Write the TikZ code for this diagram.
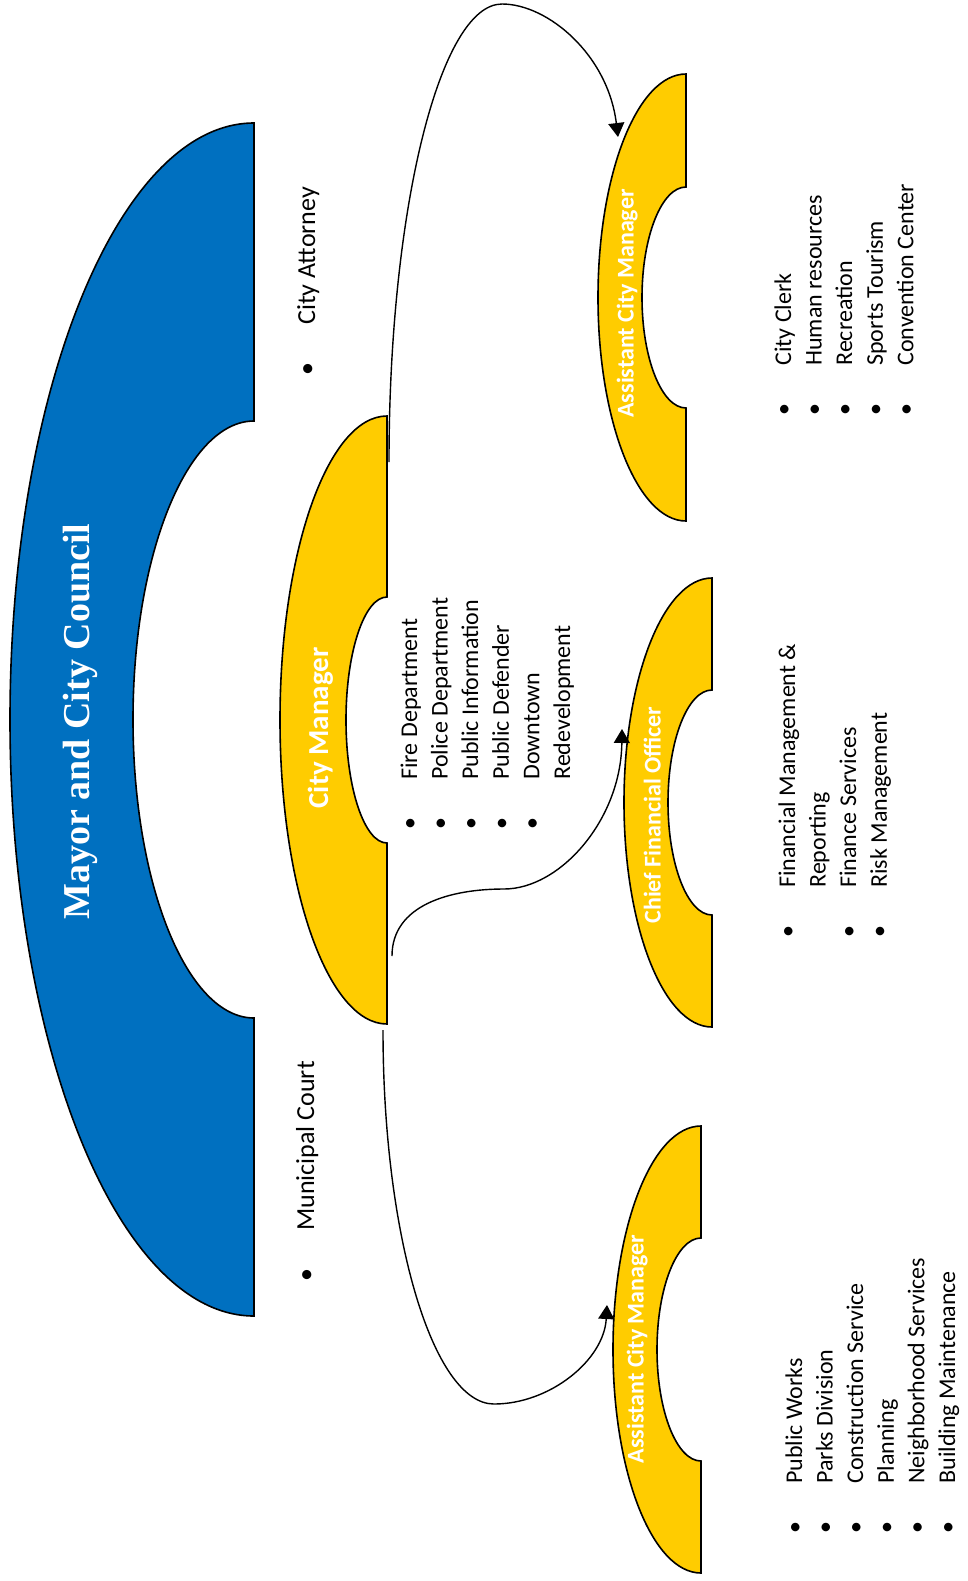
\documentclass[tikz,border=0pt]{standalone}
\usepackage{fontspec}
\setmainfont{Carlito}
\newfontfamily\councilfont{Liberation Serif}
\usepackage{xcolor}
\usepackage{tikz}
\usetikzlibrary{arrows.meta}

\definecolor{councilblue}{HTML}{0070C0}
\definecolor{officegold}{HTML}{FFCC00}

\tikzset{
  council/.style={draw=black, line width=0.8pt, fill=councilblue},
  office/.style={draw=black, line width=0.8pt, fill=officegold},
  title/.style={rotate=90, anchor=base, inner sep=0pt, text=white,
    font=\bfseries\fontsize{12pt}{14pt}\selectfont},
  duties/.style={rotate=90, anchor=base west, inner sep=0pt,
    font=\fontsize{12pt}{15.3pt}\selectfont},
  link/.style={line width=0.7pt, -{Triangle[length=7pt,width=8pt]}},
}
\newcommand{\duty}[1]{\makebox[12pt]{\textbullet}\hspace{16pt}#1}
\newcommand{\dutymore}[1]{\hspace{28pt}#1}

\begin{document}
\begin{tikzpicture}[x=0.5pt, y=-0.5pt]
\useasboundingbox (0,0) rectangle (968,1581);

% arches
\draw[council] (254,123) arc[start angle=270, end angle=90, x radius=244, y radius=596.5]
  -- (254,1018) arc[start angle=90, end angle=270, x radius=121, y radius=298.5] -- cycle;
\draw[office] (387,416) arc[start angle=270, end angle=90, x radius=107, y radius=304]
  -- (387,843) arc[start angle=90, end angle=270, x radius=41, y radius=123] -- cycle;
\draw[office] (686,74) arc[start angle=270, end angle=90, x radius=88, y radius=223.5]
  -- (686,408) arc[start angle=90, end angle=270, x radius=44, y radius=110.5] -- cycle;
\draw[office] (712,578) arc[start angle=270, end angle=90, x radius=88, y radius=224.5]
  -- (712,915) arc[start angle=90, end angle=270, x radius=44, y radius=112.5] -- cycle;
\draw[office] (701,1126) arc[start angle=270, end angle=90, x radius=88, y radius=223.5]
  -- (701,1461) arc[start angle=90, end angle=270, x radius=44, y radius=111.5] -- cycle;

% titles
\node[title, font=\councilfont\bfseries\fontsize{19pt}{22pt}\selectfont] (council) at (90,721.5) {Mayor and City Council};
\node[title, font=\bfseries\fontsize{14.5pt}{17pt}\selectfont] (manager) at (328,728) {City Manager};
\node[title] (assistant1) at (633.5,303.5) {Assistant City Manager};
\node[title] (cfo) at (660.5,815) {Chief Financial Officer};
\node[title] (assistant2) at (643.5,1349) {Assistant City Manager};

% bullet lists
\node[duties, font=\fontsize{13pt}{15.3pt}\selectfont] (attorney) at (315,381) {\duty{City Attorney}};
\node[duties, font=\fontsize{13pt}{15.3pt}\selectfont] (court) at (314,1287) {\duty{Municipal Court}};
\node[duties] (manager list) at (417,836) {\begin{tabular}[t]{@{}l@{}}
  \duty{Fire Department}\\ \duty{Police Department}\\ \duty{Public Information}\\
  \duty{Public Defender}\\ \duty{Downtown}\\ \dutymore{Redevelopment}
\end{tabular}};
\node[duties] (assistant1 list) at (791,422) {\begin{tabular}[t]{@{}l@{}}
  \duty{City Clerk}\\ \duty{Human resources}\\ \duty{Recreation}\\
  \duty{Sports Tourism}\\ \duty{Convention Center}
\end{tabular}};
\node[duties] (cfo list) at (795,944) {\begin{tabular}[t]{@{}l@{}}
  \duty{Financial Management \&}\\ \dutymore{Reporting}\\
  \duty{Finance Services}\\ \duty{Risk Management}
\end{tabular}};
\node[duties] (assistant2 list) at (802,1540) {\begin{tabular}[t]{@{}l@{}}
  \duty{Public Works}\\ \duty{Parks Division}\\ \duty{Construction Service}\\
  \duty{Planning}\\ \duty{Neighborhood Services}\\ \duty{Building Maintenance}
\end{tabular}};

% connector ends
\coordinate (manager top) at (389,462);
\coordinate (assistant1 in) at (618,137);
\coordinate (manager mid) at (392,956);
\coordinate (cfo in) at (622,729);
\coordinate (manager bottom) at (383,1030);
\coordinate (assistant2 in) at (607,1305);

\draw[link] (manager top) .. controls (389,209) and (440,4) .. (502,4)
  .. controls (548,4) and (608,55) .. (assistant1 in);
\draw[link] (manager mid) .. controls (392,905) and (450,889) .. (504,889)
  .. controls (560,889) and (621,820) .. (cfo in);
\draw[link] (manager bottom) .. controls (383,1236) and (433,1404) .. (494,1404)
  .. controls (550,1404) and (604,1360) .. (assistant2 in);
\end{tikzpicture}
\end{document}
